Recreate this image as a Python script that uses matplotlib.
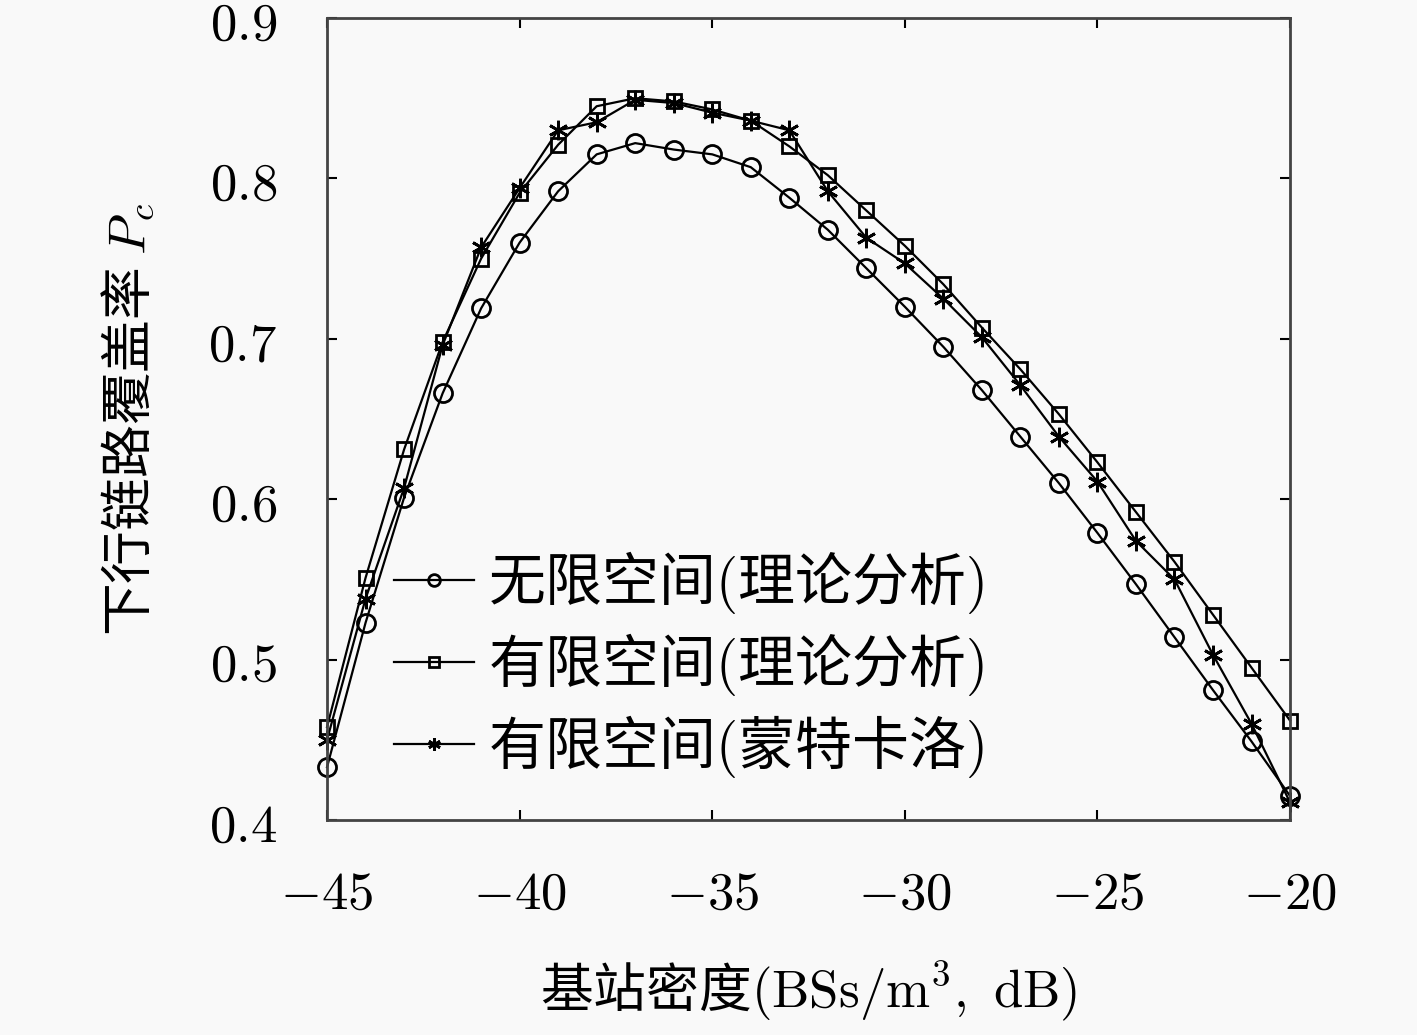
#!/usr/bin/env python3

import matplotlib
matplotlib.use("Agg")
import matplotlib.pyplot as plt
from matplotlib.ticker import FixedLocator, FixedFormatter

plt.rcParams['font.family'] = ['Noto Sans CJK SC', 'DejaVu Sans']
plt.rcParams['mathtext.fontset'] = 'cm'

# data
density = [-45, -44, -43, -42, -41, -40, -39, -38, -37, -36, -35, -34, -33,
           -32, -31, -30, -29, -28, -27, -26, -25, -24, -23, -22, -21, -20]

infiniteTheory = [0.433, 0.523, 0.601, 0.666, 0.719, 0.760, 0.792, 0.815, 0.822,
                  0.818, 0.815, 0.807, 0.788, 0.768, 0.744, 0.720, 0.695, 0.668,
                  0.639, 0.610, 0.579, 0.547, 0.514, 0.481, 0.449, 0.415]

finiteTheory = [0.458, 0.551, 0.631, 0.698, 0.750, 0.791, 0.821, 0.845, 0.850,
                0.848, 0.843, 0.836, 0.820, 0.802, 0.780, 0.758, 0.734, 0.707,
                0.681, 0.653, 0.623, 0.592, 0.561, 0.528, 0.495, 0.462]

finiteMonteCarlo = [0.450, 0.538, 0.607, 0.696, 0.757, 0.794, 0.830, 0.835, 0.849,
                    0.847, 0.841, 0.836, 0.830, 0.792, 0.763, 0.747, 0.725, 0.701,
                    0.671, 0.639, 0.611, 0.574, 0.550, 0.503, 0.460, 0.411]

seriesLabels = ['无限空间$($理论分析$)$', '有限空间$($理论分析$)$', '有限空间$($蒙特卡洛$)$']

xTicks = [-45, -40, -35, -30, -25, -20]
yTicks = [0.4, 0.5, 0.6, 0.7, 0.8, 0.9]


def main():

    bg = '#f9f9f9'
    fig = plt.figure(figsize=(14.17, 10.35), dpi=100, facecolor=bg)
    ax = fig.add_axes([0.2308, 0.2077, 0.6796, 0.7749], facecolor=bg)

    lineStyle = dict(color='black', linewidth=1.6, markerfacecolor='none',
                     markeredgecolor='black', markeredgewidth=2.0, clip_on=False)

    ax.plot(density, infiniteTheory, marker='o', markersize=13,
            label=seriesLabels[0], **lineStyle)
    ax.plot(density, finiteTheory, marker='s', markersize=10,
            label=seriesLabels[1], **lineStyle)
    ax.plot(density, finiteMonteCarlo, marker=(6, 2, 0), markersize=14,
            label=seriesLabels[2], **lineStyle)

    ax.set_xlim(-45, -20)
    ax.set_ylim(0.4, 0.9)

    ax.xaxis.set_major_locator(FixedLocator(xTicks))
    ax.xaxis.set_major_formatter(FixedFormatter([f'${t}$' for t in xTicks]))
    ax.yaxis.set_major_locator(FixedLocator(yTicks))
    ax.yaxis.set_major_formatter(FixedFormatter([f'${t:.1f}$' for t in yTicks]))

    ax.tick_params(axis='both', direction='in', length=7, width=1.5,
                   top=True, right=True, labelsize=38)
    ax.tick_params(axis='x', pad=33)
    ax.tick_params(axis='y', pad=36)

    for spine in ax.spines.values():
        spine.set_linewidth(2)
        spine.set_color('#444444')

    ax.set_ylabel('下行链路覆盖率 $P_c$', fontsize=38, labelpad=36)
    ax.set_xlabel('基站密度$(\\mathrm{BSs/m^3,\\ dB})$', fontsize=38, labelpad=28)

    ax.legend(loc='lower left', bbox_to_anchor=(0.07, 0.05), frameon=False,
              fontsize=41, markerscale=0.65, handlelength=1.4, handletextpad=0.25,
              labelspacing=0.28, borderaxespad=0, borderpad=0)

    fig.savefig('out.png', dpi=100, facecolor=bg)


if __name__ == "__main__":
    main()
